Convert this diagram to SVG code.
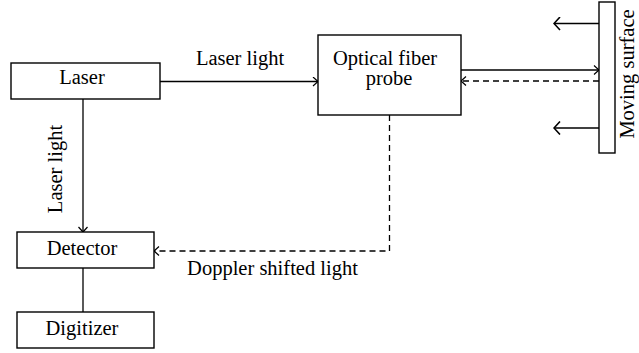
<svg xmlns="http://www.w3.org/2000/svg" width="639" height="353" viewBox="0 0 639 353">
<style>
.box{fill:#fff;stroke:#000;stroke-width:1.4}
.t{font-family:"Liberation Serif","Times New Roman",serif;font-size:20.5px;fill:#000;text-anchor:middle}
.ln{fill:none;stroke:#000;stroke-width:1.3}
.dash{stroke-dasharray:6 4}
</style>
<defs>
<marker id="ah" viewBox="0 0 10 10" refX="9" refY="5" markerWidth="10" markerHeight="10" markerUnits="userSpaceOnUse" orient="auto">
<path d="M4,0.5 L9,5 L4,9.5" fill="none" stroke="#000" stroke-width="1.2"/>
</marker>
<marker id="ah2" viewBox="0 0 14 14" refX="13" refY="7" markerWidth="14" markerHeight="14" markerUnits="userSpaceOnUse" orient="auto">
<path d="M7,0.5 L13,7 L7,13.5" fill="none" stroke="#000" stroke-width="1.6"/>
</marker>
</defs>
<g id="connectors">
<line class="ln" x1="160" y1="81.5" x2="318" y2="81.5" marker-end="url(#ah)"/>
<line class="ln" x1="83" y1="99" x2="83" y2="232" marker-end="url(#ah)"/>
<line class="ln" x1="83" y1="268" x2="83" y2="312"/>
<line class="ln" x1="461" y1="70" x2="599" y2="70" marker-end="url(#ah)"/>
<line class="ln dash" x1="599" y1="81" x2="461" y2="81" marker-end="url(#ah)"/>
<polyline class="ln dash" points="389.5,115 389.5,251 154,251" marker-end="url(#ah)"/>
<line class="ln" x1="599" y1="23.5" x2="554" y2="23.5" stroke-width="1.6" marker-end="url(#ah2)"/>
<line class="ln" x1="599" y1="128" x2="554" y2="128" stroke-width="1.6" marker-end="url(#ah2)"/>
<text class="t" x="240" y="65">Laser light</text>
<text class="t" transform="translate(62,169) rotate(-90)">Laser light</text>
<text class="t" x="272.5" y="275">Doppler shifted light</text>
</g>
<g id="laser">
<rect class="box" x="11" y="63" width="149" height="36"/>
<text class="t" x="82" y="84">Laser</text>
</g>
<g id="probe">
<rect class="box" x="318" y="35" width="143" height="80"/>
<text class="t" x="385" y="65">Optical fiber</text>
<text class="t" x="389" y="85">probe</text>
</g>
<g id="surface">
<rect class="box" x="599" y="2" width="16" height="151"/>
<text class="t" transform="translate(634,74) rotate(-90)">Moving surface</text>
</g>
<g id="detector">
<rect class="box" x="17" y="232" width="137" height="36"/>
<text class="t" x="82" y="255">Detector</text>
</g>
<g id="digitizer">
<rect class="box" x="17" y="312" width="137" height="36"/>
<text class="t" x="82" y="335">Digitizer</text>
</g>
</svg>
